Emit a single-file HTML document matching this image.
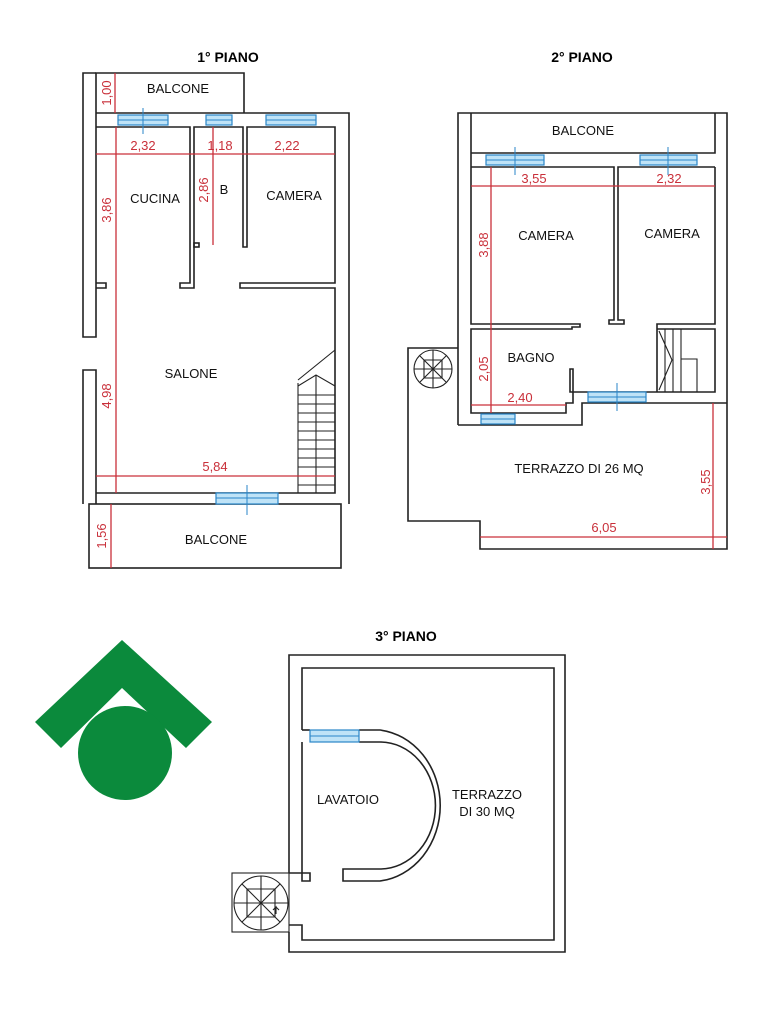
<!DOCTYPE html>
<html><head><meta charset="utf-8"><style>
html,body{margin:0;padding:0;background:#fff}
svg{display:block}
.w{fill:none;stroke:#222;stroke-width:1.6}
.r{stroke:#c9303a;stroke-width:1.3;fill:none}
.rt{fill:#c9303a;font-family:"Liberation Sans",sans-serif;font-size:13px}
.t{fill:#111;font-family:"Liberation Sans",sans-serif;font-size:13px}
.h{fill:#000;font-family:"Liberation Sans",sans-serif;font-size:14px;font-weight:bold}
.win{fill:#bfe3f7;stroke:#2a86c8;stroke-width:1.2}
.wl{stroke:#2a86c8;stroke-width:1}
</style></head><body>
<svg width="768" height="1024" viewBox="0 0 768 1024" xmlns="http://www.w3.org/2000/svg">
<text class="h" x="228" y="62" text-anchor="middle">1° PIANO</text>
<text class="h" x="582" y="62" text-anchor="middle">2° PIANO</text>
<text class="h" x="406" y="641" text-anchor="middle">3° PIANO</text>

<g>
<polyline class="w" points="96,113 96,73 244,73 244,113"/>
<polyline class="w" points="96,73 83,73 83,337 96,337 96,283"/>
<line class="w" x1="96" y1="113" x2="96" y2="283"/>
<polyline class="w" points="83,504 83,370 96,370 96,504"/>
<polyline class="w" points="96,113 349,113 349,504"/>
<polyline class="w" points="96,127 190,127 190,283 180,283 180,288 194,288 194,127 243,127 243,247 247,247 247,127 335,127 335,283 240,283 240,288 335,288 335,493 96,493"/>
<polyline class="w" points="96,283 106,283 106,288 96,288"/>
<rect class="w" x="194" y="243" width="5" height="4"/>
<rect class="w" x="89" y="504" width="252" height="64"/>
<rect class="win" x="118" y="115" width="50" height="10"/><line class="wl" x1="118" y1="120" x2="168" y2="120"/><line class="wl" x1="143" y1="108" x2="143" y2="134"/>
<rect class="win" x="206" y="115" width="26" height="10"/><line class="wl" x1="206" y1="120" x2="232" y2="120"/>
<rect class="win" x="266" y="115" width="50" height="10"/><line class="wl" x1="266" y1="120" x2="316" y2="120"/>
<rect class="win" x="216" y="493" width="62" height="11"/><line class="wl" x1="216" y1="498" x2="278" y2="498"/><line class="wl" x1="247" y1="485" x2="247" y2="515"/>
<g class="w" style="stroke-width:1.1">
<polyline points="298,383 298,493"/>
<polyline points="298,380 335,350"/>
<polyline points="298,386 316,375 335,386"/>
<line x1="316" y1="375" x2="316" y2="493"/>
<line x1="298" y1="395" x2="335" y2="395"/><line x1="298" y1="404" x2="335" y2="404"/><line x1="298" y1="413" x2="335" y2="413"/><line x1="298" y1="422" x2="335" y2="422"/><line x1="298" y1="431" x2="335" y2="431"/><line x1="298" y1="440" x2="335" y2="440"/><line x1="298" y1="449" x2="335" y2="449"/><line x1="298" y1="458" x2="335" y2="458"/><line x1="298" y1="467" x2="335" y2="467"/><line x1="298" y1="476" x2="335" y2="476"/><line x1="298" y1="485" x2="335" y2="485"/>
</g>
<line class="r" x1="115" y1="73" x2="115" y2="113"/>
<line class="r" x1="96" y1="154" x2="335" y2="154"/>
<line class="r" x1="116" y1="127" x2="116" y2="493"/>
<line class="r" x1="213" y1="127" x2="213" y2="245"/>
<line class="r" x1="96" y1="476" x2="335" y2="476"/>
<line class="r" x1="111" y1="504" x2="111" y2="568"/>
<text class="rt" transform="translate(111,93) rotate(-90)" text-anchor="middle">1,00</text>
<text class="rt" x="143" y="150" text-anchor="middle">2,32</text>
<text class="rt" x="220" y="150" text-anchor="middle">1,18</text>
<text class="rt" x="287" y="150" text-anchor="middle">2,22</text>
<text class="rt" transform="translate(111,210) rotate(-90)" text-anchor="middle">3,86</text>
<text class="rt" transform="translate(208,190) rotate(-90)" text-anchor="middle">2,86</text>
<text class="rt" transform="translate(111,396) rotate(-90)" text-anchor="middle">4,98</text>
<text class="rt" x="215" y="471" text-anchor="middle">5,84</text>
<text class="rt" transform="translate(106,536) rotate(-90)" text-anchor="middle">1,56</text>
<text class="t" x="178" y="93" text-anchor="middle">BALCONE</text>
<text class="t" x="155" y="203" text-anchor="middle">CUCINA</text>
<text class="t" x="224" y="194" text-anchor="middle">B</text>
<text class="t" x="294" y="200" text-anchor="middle">CAMERA</text>
<text class="t" x="191" y="378" text-anchor="middle">SALONE</text>
<text class="t" x="216" y="544" text-anchor="middle">BALCONE</text>
</g>

<g>
<polyline class="w" points="458,425 458,113 727,113 727,403"/>
<polyline class="w" points="471,167 471,113"/>
<polyline class="w" points="715,113 715,153 471,153"/>
<polyline class="w" points="715,167 715,324 657,324 657,392"/>
<polyline class="w" points="471,167 614,167 614,320 609,320 609,324 624,324 624,320 618,320 618,167 715,167"/>
<polyline class="w" points="471,167 471,324 580,324 580,327 572,327 572,329 471,329 471,413 566,413 566,403 573,403 573,369 570,369 570,392 657,392"/>
<polyline class="w" points="657,392 715,392 715,329 657,329"/>
<polyline class="w" points="458,425 582,425 582,403 727,403"/>
<polyline class="w" points="458,348 408,348 408,521 480,521 480,549 727,549 727,403"/>
<g class="w" style="stroke-width:1.1">
<line x1="665" y1="329" x2="665" y2="392"/><line x1="673" y1="329" x2="673" y2="392"/><line x1="681" y1="329" x2="681" y2="392"/>
<polyline points="681,359 697,359 697,392"/>
<polyline points="659,331 672,360 659,390"/>
</g>
<g class="w" style="stroke-width:1.1">
<circle cx="433" cy="369" r="19"/>
<line x1="420" y1="356" x2="446" y2="382"/><line x1="446" y1="356" x2="420" y2="382"/>
<line x1="433" y1="350" x2="433" y2="388"/><line x1="414" y1="369" x2="452" y2="369"/>
<polyline points="424,360 442,360 442,378 424,378 424,360"/>
</g>
<rect class="win" x="486" y="155" width="58" height="10"/><line class="wl" x1="486" y1="160" x2="544" y2="160"/><line class="wl" x1="515" y1="147" x2="515" y2="175"/>
<rect class="win" x="640" y="155" width="57" height="10"/><line class="wl" x1="640" y1="160" x2="697" y2="160"/><line class="wl" x1="668" y1="147" x2="668" y2="175"/>
<rect class="win" x="588" y="392" width="58" height="10"/><line class="wl" x1="588" y1="397" x2="646" y2="397"/><line class="wl" x1="617" y1="383" x2="617" y2="411"/>
<rect class="win" x="481" y="414" width="34" height="10"/><line class="wl" x1="481" y1="419" x2="515" y2="419"/>
<line class="r" x1="471" y1="186" x2="715" y2="186"/>
<line class="r" x1="491" y1="167" x2="491" y2="413"/>
<line class="r" x1="471" y1="405" x2="566" y2="405"/>
<line class="r" x1="713" y1="403" x2="713" y2="549"/>
<line class="r" x1="480" y1="537" x2="727" y2="537"/>
<text class="rt" x="534" y="183" text-anchor="middle">3,55</text>
<text class="rt" x="669" y="183" text-anchor="middle">2,32</text>
<text class="rt" transform="translate(488,245) rotate(-90)" text-anchor="middle">3,88</text>
<text class="rt" transform="translate(488,369) rotate(-90)" text-anchor="middle">2,05</text>
<text class="rt" x="520" y="402" text-anchor="middle">2,40</text>
<text class="rt" transform="translate(710,482) rotate(-90)" text-anchor="middle">3,55</text>
<text class="rt" x="604" y="532" text-anchor="middle">6,05</text>
<text class="t" x="583" y="135" text-anchor="middle">BALCONE</text>
<text class="t" x="546" y="240" text-anchor="middle">CAMERA</text>
<text class="t" x="672" y="238" text-anchor="middle">CAMERA</text>
<text class="t" x="531" y="362" text-anchor="middle">BAGNO</text>
<text class="t" x="579" y="473" text-anchor="middle">TERRAZZO DI 26 MQ</text>
</g>

<g>
<polyline class="w" points="289,873 289,655 565,655 565,952 289,952 289,932"/>
<polyline class="w" points="302,730 302,668 554,668 554,940 302,940 302,925 289,925"/>
<polyline class="w" points="289,873 310,873 310,881 302,881 302,742"/>
<line class="w" x1="302" y1="730" x2="310" y2="730"/>
<path class="w" d="M359,730 L380,730 A68,76 0 0 1 380,881 L343,881 L343,869 L380,869 A55,63 0 0 0 380,742 L359,742"/>
<rect class="win" x="310" y="730" width="49" height="12"/><line class="wl" x1="310" y1="736" x2="359" y2="736"/>
<g class="w" style="stroke-width:1.1">
<rect x="232" y="873" width="57" height="59"/>
<circle cx="261" cy="903" r="27"/>
<line x1="242" y1="884" x2="280" y2="922"/><line x1="280" y1="884" x2="242" y2="922"/>
<line x1="261" y1="876" x2="261" y2="930"/><line x1="234" y1="903" x2="288" y2="903"/>
<polyline points="247,889 275,889 275,917 247,917 247,889"/>
<polyline points="276,914 276,907 273,910 276,907 279,910"/>
</g>
<text class="t" x="348" y="804" text-anchor="middle">LAVATOIO</text>
<text class="t" x="487" y="799" text-anchor="middle">TERRAZZO</text>
<text class="t" x="487" y="816" text-anchor="middle">DI 30 MQ</text>
</g>

<polygon fill="#0b8a3c" points="35,722 122,640 212,722 186,748 122,688 61,748"/>
<circle cx="125" cy="753" r="47" fill="#0b8a3c"/>
</svg>
</body></html>
